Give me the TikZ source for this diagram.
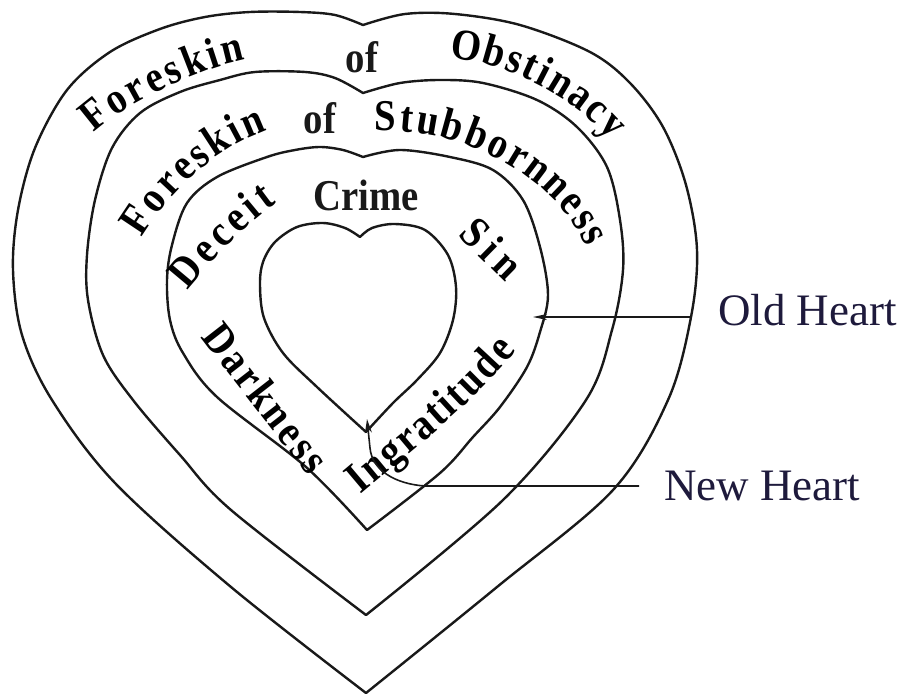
\documentclass[tikz,border=0pt]{standalone}
\usepackage{fontspec}
\setmainfont{Liberation Serif}
\newfontfamily\ringfam[FakeStretch=0.88]{Liberation Serif}
\usetikzlibrary{decorations.text,arrows.meta}
\definecolor{labcol}{RGB}{30,26,60}
\definecolor{ink}{RGB}{25,25,25}
\newcommand\ringfont{\ringfam\bfseries\fontsize{44}{52}\selectfont}
\begin{document}
\begin{tikzpicture}[x=1pt,y=-1pt,
  heart/.style={line width=2.4pt,line join=round,draw=ink},
  ringtext/.style={decorate,decoration={text along path,text align=fit to path,raise=-12pt,text={|\ringfont|#1}}},
  flatword/.style={font=\ringfont,text=ink,inner sep=0pt,anchor=base},
  lab/.style={font=\fontsize{45}{54}\selectfont,text=labcol,inner sep=0pt,anchor=base west},
  conn/.style={line width=1.6pt,draw=ink}]
\useasboundingbox (0,0) rectangle (901,696);
% outer heart
\draw[heart] plot[smooth,tension=0.55] coordinates {(363,25) (335,15) (300,12) (250,12) (205,17) (160,29) (110,52) (67,90) (35,148) (18,210) (13,270) (22,335) (52,400) (115,483) (231,587) (366,693)}
 -- plot[smooth,tension=0.55] coordinates {(366,693) (497,587) (613,490) (668,400) (691,317) (697,250) (686,185) (663,127) (630,83) (590,52) (520,25) (455,14) (405,14) (363,25)} -- cycle;
% second heart
\draw[heart] plot[smooth,tension=0.55] coordinates {(363,93) (335,78) (305,72) (255,72) (220,80) (180,92) (140,113) (112,148) (95,200) (87,255) (88,300) (103,355) (133,400) (180,455) (231,510) (366,615)}
 -- plot[smooth,tension=0.55] coordinates {(366,615) (503,500) (586,400) (612,330) (623,270) (620,220) (607,167) (577,127) (537,100) (483,83) (440,80) (400,83) (363,93)} -- cycle;
% third heart
\draw[heart] plot[smooth,tension=0.55] coordinates {(363,157) (343,150) (320,147) (295,150) (267,157) (217,177) (187,203) (172,245) (167,280) (170,320) (183,353) (217,397) (306,467) (367,530)}
 -- plot[smooth,tension=0.55] coordinates {(367,530) (440,473) (473,437) (500,407) (527,367) (540,332) (548,295) (540,247) (523,200) (493,170) (450,157) (400,150) (363,157)} -- cycle;
% inner heart
\draw[heart] plot[smooth,tension=0.55] coordinates {(360,237) (345,228) (323,223) (297,227) (275,242) (263,262) (260,285) (264,318) (283,353) (317,387) (366,432)}
 -- plot[smooth,tension=0.55] coordinates {(366,432) (393,403) (417,380) (440,353) (453,320) (456,287) (448,255) (425,230) (395,224) (372,228) (360,237)} -- cycle;
% ring texts
\path[ringtext={Foreskin}] (86,124) .. controls (109,100) and (190,58) .. (243,48);
\node[flatword] (of1) at (362,72) {of};
\path[ringtext={Obstinacy}] (451,46) .. controls (510,52) and (575,82) .. (619,132);
\path[ringtext={Foreskin}] (132,231) .. controls (160,185) and (205,140) .. (263,119);
\node[flatword] (of2) at (320,133) {of};
\path[ringtext={Stubbornness}] (375,119) .. controls (460,115) and (560,160) .. (597,242);
\node[flatword] (crime) at (366,210) {Crime};
\path[ringtext={Deceit}] (178,283) .. controls (200,255) and (235,218) .. (270,193);
\path[ringtext={Sin}] (466,227) -- (514,274);
\path[ringtext={Darkness}] (210,330) -- (318,469);
\path[ringtext={Ingratitude}] (353,485) .. controls (400,445) and (460,400) .. (507,343);
% labels
\node[lab] (old) at (718,325) {Old Heart};
\node[lab] (new) at (664,500) {New Heart};
% connectors
\coordinate (oldA) at (692,317);
\coordinate (oldB) at (533,317);
\draw[conn,-{Stealth[length=14pt,width=6pt]}] (oldA) -- (oldB);
\coordinate (newA) at (639,486);
\coordinate (newB) at (425,486);
\coordinate (newC) at (367,419);
\draw[conn,-{Stealth[length=14pt,width=7pt]}] (newA) -- (newB) .. controls (395,484) and (372,470) .. (370,448) -- (newC);
\end{tikzpicture}
\end{document}
